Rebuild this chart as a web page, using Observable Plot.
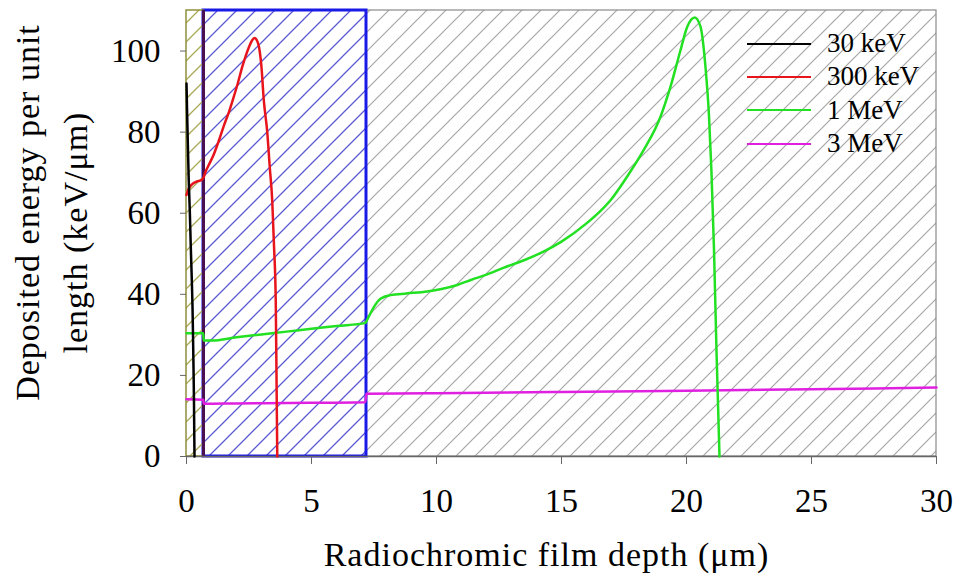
<!DOCTYPE html>
<html>
<head>
<meta charset="utf-8">
<script src="https://cdn.jsdelivr.net/npm/d3@7"></script>
<script src="https://cdn.jsdelivr.net/npm/@observablehq/plot@0.6"></script>
<style>
  html, body { margin: 0; padding: 0; background: #fff; }
  #wrap { position: relative; width: 956px; height: 582px; overflow: hidden; }
  #legend { position: absolute; left: 747px; top: 27px; font-family: 'Liberation Serif', 'Times New Roman', serif; font-size: 27px; color: #000; }
  .row { position: relative; height: 33.3px; display: flex; align-items: center; }
  .sw { width: 64px; height: 0; border-top: 2.5px solid; margin-right: 16px; }
  .lab { line-height: 1; }
</style>
</head>
<body>
<div id="wrap"><div id="legend"></div></div>
<script>
// ---- Data ----
const layerStart = [0, 0.68, 7.2];
const layerEnd = [0.68, 7.2, 30];
const layerKind = ["olive", "blue", "gray"];

const xTicks = [0, 5, 10, 15, 20, 25, 30];
const yTicks = [0, 20, 40, 60, 80, 100];

const seriesNames = ["30 keV", "300 keV", "1 MeV", "3 MeV"];
const seriesColors = ["#000000", "#e8141c", "#22e022", "#e020e0"];

const keV30 = [[0, 92], [0.02, 86], [0.05, 78], [0.09, 68], [0.13, 61], [0.17, 52], [0.21, 44], [0.24, 37], [0.26, 30], [0.28, 22], [0.30, 13], [0.31, 6], [0.32, 0]];

const keV300 = [[0, 64.5], [0.08, 66], [0.2, 67], [0.4, 67.8], [0.6, 68.2], [0.68, 68.8], [0.76, 70.2], [0.9, 72], [1.09, 74.5], [1.3, 78], [1.49, 81.5], [1.7, 85], [1.89, 88.7], [2.05, 92], [2.23, 96.1], [2.38, 99], [2.5, 101], [2.62, 102.6], [2.72, 103.2], [2.8, 102.8], [2.9, 101], [3.0, 96], [3.09, 88], [3.23, 80], [3.33, 71.4], [3.43, 63], [3.5, 52], [3.57, 38.5], [3.6, 20], [3.63, 0]];

const MeV1 = [[0, 30.4], [0.67, 30.4], [0.69, 28.6], [1.0, 28.6], [2, 29.4], [3, 30.1], [4, 30.8], [5, 31.5], [6, 32.2], [7.15, 32.9], [7.2, 33.4], [7.35, 35.2], [7.5, 36.9], [7.76, 38.9], [8.16, 39.8], [8.8, 40.2], [9.63, 40.7], [10.2, 41.3], [10.83, 42.3], [11.4, 43.6], [12.03, 44.9], [12.7, 46.6], [13.5, 48.4], [14.3, 50.6], [15, 53], [16, 57.5], [16.5, 60.2], [16.96, 63.2], [17.6, 68.8], [18.29, 75.6], [18.96, 83.8], [19.36, 91.2], [19.76, 100.2], [20.03, 106], [20.33, 108.3], [20.56, 106], [20.76, 96], [20.9, 84], [21.0, 70], [21.1, 51], [21.2, 26], [21.32, 0]];

const MeV3 = [[0, 14.1], [0.67, 14.0], [0.69, 13.0], [2, 13.1], [4, 13.2], [7.15, 13.4], [7.2, 15.5], [10, 15.6], [15, 15.9], [20, 16.2], [25, 16.6], [30, 17.0]];

const xLabel = "Radiochromic film depth (μm)";
const yLabel1 = "Deposited energy per unit";
const yLabel2 = "length (keV/μm)";

// ---- Build ----
const layers = layerStart.map((s, i) => ({start: s, end: layerEnd[i], kind: layerKind[i]}));
const font = "'Liberation Serif', 'Times New Roman', serif";

const layerStyle = {
  gray: {stroke: "#8a8a8a", strokeWidth: 1.2},
  blue: {stroke: "#1a1ae6", strokeWidth: 3},
  olive: {stroke: "#8e8e3c", strokeWidth: 1.5}
};

const lineMark = (data, i) => Plot.line(data, {x: d => d[0], y: d => d[1], stroke: seriesColors[i], strokeWidth: 2.5, curve: "monotone-x"});

const svg = Plot.plot({
  width: 956,
  height: 582,
  marginLeft: 186,
  marginRight: 20,
  marginTop: 10,
  marginBottom: 126,
  x: {domain: [0, 30]},
  y: {domain: [0, 110]},
  style: {fontFamily: font, fontSize: "33px", color: "#000", background: "#fff", overflow: "visible"},
  marks: [
    ...["gray", "blue", "olive"].map(k => Plot.rect(layers, {
      filter: d => d.kind === k, x1: "start", x2: "end", y1: 0, y2: 110,
      fill: `url(#hatch-${k})`, ...layerStyle[k]
    })),
    Plot.ruleX([layerStart[1]], {stroke: "#4a1050", strokeWidth: 3}),
    Plot.ruleY([0], {stroke: "#666", strokeWidth: 1.5}),
    lineMark(MeV3, 3),
    lineMark(MeV1, 2),
    lineMark(keV300, 1),
    lineMark(keV30, 0),
    Plot.axisX({ticks: xTicks, tickSize: 8, tickPadding: 24, stroke: "#666", label: null, fontSize: 33}),
    Plot.axisY({ticks: yTicks, tickSize: 6, tickPadding: 20, stroke: "#666", label: null, fontSize: 33}),
    Plot.text([xLabel], {frameAnchor: "bottom", dx: -15, dy: 109, lineAnchor: "bottom", textAnchor: "middle", text: d => d, fontSize: 34}),
    Plot.text([yLabel1], {frameAnchor: "left", rotate: -90, dx: -158, dy: -21, lineAnchor: "middle", textAnchor: "middle", text: d => d, fontSize: 34}),
    Plot.text([yLabel2], {frameAnchor: "left", rotate: -90, dx: -110, dy: -1, lineAnchor: "middle", textAnchor: "middle", text: d => d, fontSize: 34})
  ]
});

const P = 19;
const hatch = (id, color, w) => `<pattern id="${id}" patternUnits="userSpaceOnUse" width="${P}" height="${P}">
  <path d="M0,${P} L${P},0 M-2,2 L2,-2 M${P - 2},${P + 2} L${P + 2},${P - 2}" stroke="${color}" stroke-width="${w}" fill="none"/></pattern>`;
d3.select(svg).insert("defs", ":first-child").html(
  hatch("hatch-gray", "#a6a6a6", 1.2) +
  hatch("hatch-blue", "#5a5ad2", 1.3) +
  hatch("hatch-olive", "#a8a855", 1.3)
);
d3.select(svg).selectAll("text")
  .filter(function() { return [xLabel, yLabel1, yLabel2].includes(this.textContent); })
  .style("letter-spacing", "1px");

const wrap = document.getElementById("wrap");
wrap.insertBefore(svg, wrap.firstChild);

const legend = d3.select("#legend");
seriesNames.forEach((name, i) => {
  const row = legend.append("div").attr("class", "row");
  row.append("div").attr("class", "sw").style("border-top-color", seriesColors[i]);
  row.append("div").attr("class", "lab").text(name);
});
</script>
</body>
</html>
